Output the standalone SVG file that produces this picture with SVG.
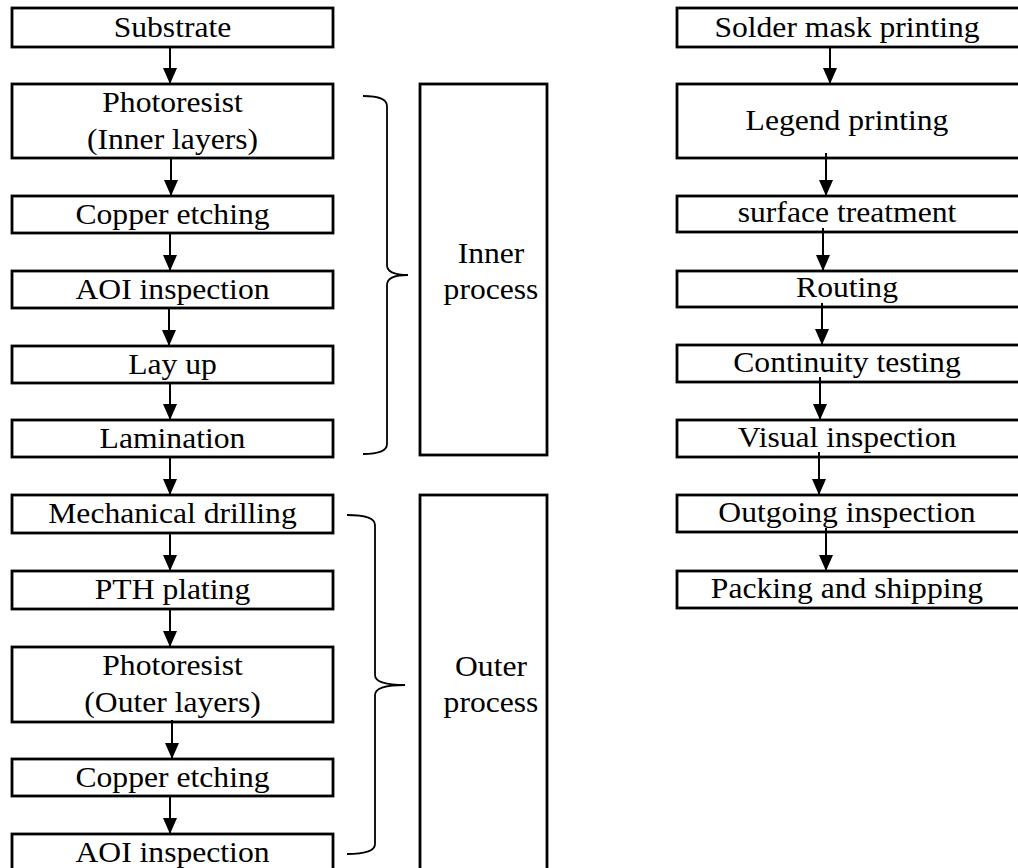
<svg xmlns="http://www.w3.org/2000/svg" width="1018" height="868" viewBox="0 0 1018 868">
<style>
.box{fill:#fff;stroke:#000;stroke-width:2.8}
.t{font-family:"Liberation Serif","Times New Roman",serif;font-size:28.5px;fill:#000;text-anchor:middle}
.c{stroke:#000;stroke-width:2;fill:none}
.br{stroke:#000;stroke-width:1.8;fill:none}
</style>
<defs>
<marker id="ah" viewBox="0 0 16 14" refX="16" refY="7" markerWidth="16" markerHeight="14" markerUnits="userSpaceOnUse" orient="auto">
<path d="M0,0 L16,7 L0,14 Z" fill="#000"/>
</marker>
</defs>
<rect width="1018" height="868" fill="#fff"/>

<g id="n-substrate"><rect class="box" x="12" y="8" width="321" height="39"/><text class="t" transform="translate(172.5,37) scale(1.11,1)">Substrate</text></g>
<g id="n-photoresist-inner"><rect class="box" x="12" y="84" width="321" height="74"/><text class="t" transform="translate(172.5,112) scale(1.11,1)">Photoresist</text><text class="t" transform="translate(172.5,149) scale(1.11,1)">(Inner layers)</text></g>
<g id="n-copper1"><rect class="box" x="12" y="196" width="321" height="37"/><text class="t" transform="translate(172.5,224) scale(1.11,1)">Copper etching</text></g>
<g id="n-aoi1"><rect class="box" x="12" y="271" width="321" height="37"/><text class="t" transform="translate(172.5,299) scale(1.11,1)">AOI inspection</text></g>
<g id="n-layup"><rect class="box" x="12" y="346" width="321" height="37"/><text class="t" transform="translate(172.5,374) scale(1.11,1)">Lay up</text></g>
<g id="n-lamination"><rect class="box" x="12" y="420" width="321" height="37"/><text class="t" transform="translate(172.5,448) scale(1.11,1)">Lamination</text></g>
<g id="n-drilling"><rect class="box" x="12" y="495" width="321" height="38"/><text class="t" transform="translate(172.5,523) scale(1.11,1)">Mechanical drilling</text></g>
<g id="n-pth"><rect class="box" x="12" y="571" width="321" height="38"/><text class="t" transform="translate(172.5,599) scale(1.11,1)">PTH plating</text></g>
<g id="n-photoresist-outer"><rect class="box" x="12" y="647" width="321" height="75"/><text class="t" transform="translate(172.5,675) scale(1.11,1)">Photoresist</text><text class="t" transform="translate(172.5,712) scale(1.11,1)">(Outer layers)</text></g>
<g id="n-copper2"><rect class="box" x="12" y="759" width="321" height="37"/><text class="t" transform="translate(172.5,787) scale(1.11,1)">Copper etching</text></g>
<g id="n-aoi2"><rect class="box" x="12" y="834" width="321" height="38"/><text class="t" transform="translate(172.5,862) scale(1.11,1)">AOI inspection</text></g>

<g id="n-inner-process"><rect class="box" x="420" y="84" width="127" height="371"/><text class="t" transform="translate(491,263) scale(1.11,1)">Inner</text><text class="t" transform="translate(491,299) scale(1.11,1)">process</text></g>
<g id="n-outer-process"><rect class="box" x="420" y="495" width="127" height="390"/><text class="t" transform="translate(491,676) scale(1.11,1)">Outer</text><text class="t" transform="translate(491,712) scale(1.11,1)">process</text></g>

<g id="n-soldermask"><rect class="box" x="677" y="8" width="343" height="39"/><text class="t" transform="translate(847,37) scale(1.11,1)">Solder mask printing</text></g>
<g id="n-legend"><rect class="box" x="677" y="84" width="343" height="74"/><text class="t" transform="translate(847,130) scale(1.11,1)">Legend printing</text></g>
<g id="n-surface"><rect class="box" x="677" y="196" width="343" height="36"/><text class="t" transform="translate(847,222) scale(1.11,1)">surface treatment</text></g>
<g id="n-routing"><rect class="box" x="677" y="271" width="343" height="36"/><text class="t" transform="translate(847,297) scale(1.11,1)">Routing</text></g>
<g id="n-continuity"><rect class="box" x="677" y="345" width="343" height="37"/><text class="t" transform="translate(847,372) scale(1.11,1)">Continuity testing</text></g>
<g id="n-visual"><rect class="box" x="677" y="420" width="343" height="37"/><text class="t" transform="translate(847,447) scale(1.11,1)">Visual inspection</text></g>
<g id="n-outgoing"><rect class="box" x="677" y="495" width="343" height="37"/><text class="t" transform="translate(847,522) scale(1.11,1)">Outgoing inspection</text></g>
<g id="n-packing"><rect class="box" x="677" y="571" width="343" height="37"/><text class="t" transform="translate(847,598) scale(1.11,1)">Packing and shipping</text></g>

<g id="brackets">
<path class="br" d="M363,96 Q387,96 387,106 L387,265 Q387,275 408,275 Q387,275 387,285 L387,444 Q387,454 363,454"/>
<path class="br" d="M347,515 Q375,515 375,525 L375,675 Q375,685 405,685 Q375,685 375,695 L375,844 Q375,854 347,854"/>
</g>

<g id="connectors">
<line class="c" x1="170" y1="47" x2="170" y2="84" marker-end="url(#ah)"/>
<line class="c" x1="171" y1="158" x2="171" y2="196" marker-end="url(#ah)"/>
<line class="c" x1="170" y1="233" x2="170" y2="271" marker-end="url(#ah)"/>
<line class="c" x1="169" y1="308" x2="169" y2="346" marker-end="url(#ah)"/>
<line class="c" x1="170" y1="383" x2="170" y2="420" marker-end="url(#ah)"/>
<line class="c" x1="170" y1="457" x2="170" y2="495" marker-end="url(#ah)"/>
<line class="c" x1="170" y1="533" x2="170" y2="571" marker-end="url(#ah)"/>
<line class="c" x1="170" y1="609" x2="170" y2="647" marker-end="url(#ah)"/>
<line class="c" x1="172" y1="720" x2="172" y2="759" marker-end="url(#ah)"/>
<line class="c" x1="170" y1="796" x2="170" y2="834" marker-end="url(#ah)"/>

<line class="c" x1="830" y1="47" x2="830" y2="84" marker-end="url(#ah)"/>
<line class="c" x1="826" y1="153" x2="826" y2="196" marker-end="url(#ah)"/>
<line class="c" x1="823" y1="228" x2="823" y2="271" marker-end="url(#ah)"/>
<line class="c" x1="822" y1="303" x2="822" y2="345" marker-end="url(#ah)"/>
<line class="c" x1="820" y1="377" x2="820" y2="420" marker-end="url(#ah)"/>
<line class="c" x1="819" y1="452" x2="819" y2="495" marker-end="url(#ah)"/>
<line class="c" x1="826" y1="528" x2="826" y2="571" marker-end="url(#ah)"/>
</g>
</svg>
